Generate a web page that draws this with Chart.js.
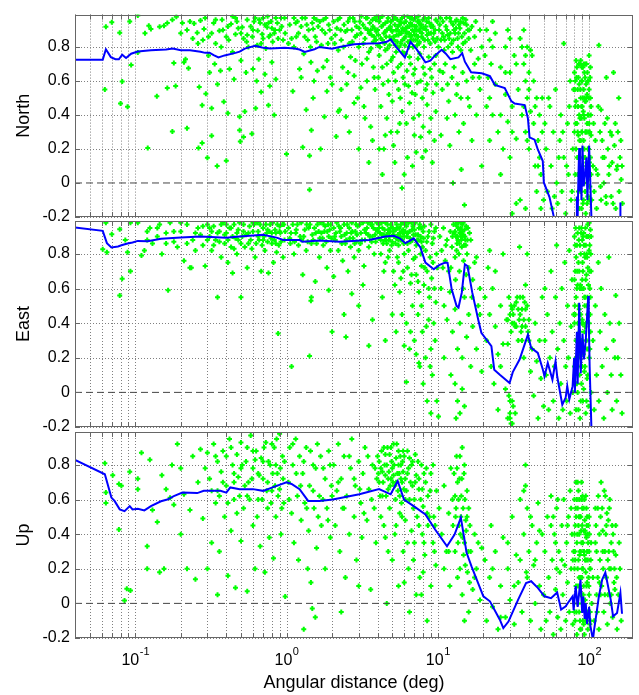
<!DOCTYPE html>
<html lang="en">
<head>
<meta charset="UTF-8">
<title>Correlation vs angular distance</title>
<script src="https://cdn.jsdelivr.net/npm/chart.js@4"></script>
<style>
  html, body { margin: 0; padding: 0; background: #fff; }
  #wrap { position: relative; width: 639px; height: 695px; }
  canvas { position: absolute; left: 0; }
</style>
</head>
<body>
<div id="wrap">
  <canvas id="north" width="639" height="235" style="top:0px"></canvas>
  <canvas id="east" width="639" height="245" style="top:200px"></canvas>
  <canvas id="up" width="639" height="284" style="top:411px"></canvas>
</div>
<script>
// axis limits and ticks
const xMin = 0.04, xMax = 195;
const yMin = -0.2, yMax = 0.99;
const xGridValues = [0.04,0.05,0.06,0.07,0.08,0.09,0.1,0.2,0.3,0.4,0.5,0.6,0.7,0.8,0.9,1,2,3,4,5,6,7,8,9,10,20,30,40,50,60,70,80,90,100];
const xMajorValues = [0.1, 1, 10, 100];
const xMajorExps = ['-1', '0', '1', '2'];
const yTickValues = [-0.2, 0, 0.2, 0.4, 0.6, 0.8];
const yTickLabels = ['-0.2', '0', '0.2', '0.4', '0.6', '0.8'];
const panelNames = ['North', 'East', 'Up'];
const xTitle = 'Angular distance (deg)';

// running mean lines [deg, corr]
const northLine = [[0.04,.725],[0.061,.725],[0.064,.786],[0.069,.74],[0.074,.728],[0.078,.727],[0.082,.754],[0.087,.735],[0.094,.76],[0.104,.773],[0.127,.78],[0.16,.785],[0.177,.79],[0.2,.78],[0.23,.78],[0.27,.772],[0.29,.765],[0.31,.766],[0.33,.752],[0.355,.738],[0.39,.75],[0.46,.765],[0.49,.772],[0.53,.79],[0.62,.806],[0.69,.796],[0.78,.79],[0.97,.795],[1.13,.79],[1.22,.785],[1.32,.771],[1.53,.786],[1.65,.8],[2.0,.79],[2.24,.8],[2.8,.815],[3.5,.82],[4.1,.822],[4.6,.83],[4.88,.844],[5.3,.8],[6.06,.738],[6.3,.78],[6.6,.829],[7.2,.79],[8.28,.709],[8.93,.719],[9.6,.75],[10.6,.783],[11.3,.76],[12.1,.728],[13.7,.738],[14.5,.763],[15.1,.713],[16.6,.651],[19.5,.645],[22.1,.628],[23.8,.577],[27.7,.558],[30.6,.481],[32.2,.467],[37.5,.458],[39.4,.38],[40.4,.268],[43.6,.255],[45.8,.197],[49.4,.129],[50.2,.003],[54.7,-.083],[58.3,-.195],[62,-.3],[78,-.32],[82,-.25],[83,-.08],[84,-.2],[85,.05],[86,.206],[87,-.05],[88,.1],[89,-.1],[90.4,.22],[92,-.02],[94,.05],[96,.15],[97.5,-.1],[99,.1],[100,.22],[101.5,.05],[103.5,-.2],[106,-.35],[158,-.35],[160,-.2],[161,-.115]];
const eastLine = [[0.04,.953],[0.061,.933],[0.065,.862],[0.0696,.837],[0.077,.843],[0.081,.85],[0.089,.86],[0.096,.866],[0.104,.875],[0.121,.873],[0.148,.888],[0.2,.894],[0.27,.9],[0.4,.893],[0.49,.9],[0.7,.91],[0.86,.894],[0.95,.88],[1.22,.88],[1.28,.87],[1.65,.878],[2.24,.87],[3.52,.88],[4.5,.9],[5.12,.905],[5.6,.89],[6.1,.862],[6.5,.875],[6.93,.89],[7.67,.837],[8.28,.75],[9.4,.711],[10.2,.735],[11.2,.75],[11.6,.748],[12.35,.595],[13.3,.5],[13.7,.49],[14.4,.576],[15.1,.74],[15.7,.73],[16.9,.576],[18.5,.42],[19.4,.344],[22.6,.267],[23.6,.131],[25.7,.102],[29.8,.054],[31.3,.117],[34.7,.19],[39.4,.334],[41.4,.257],[45.8,.228],[49.5,.131],[50.7,.093],[53.3,.17],[57.2,.074],[60,.18],[61.5,.093],[66.5,-.071],[70,-.03],[71.7,.036],[74,-.04],[77.8,.036],[79.6,.2],[80.5,0],[83,.35],[84,.05],[86,.518],[88,.11],[90.4,.34],[92.5,.19],[95,.3],[98.6,.557],[99.5,.42],[100.8,.15],[103.5,-.2],[106,-.45]];
const upLine = [[0.04,.829],[0.063,.746],[0.0696,.611],[0.073,.592],[0.079,.543],[0.085,.533],[0.092,.562],[0.096,.543],[0.104,.547],[0.115,.537],[0.127,.562],[0.148,.59],[0.163,.6],[0.18,.62],[0.205,.64],[0.257,.637],[0.284,.65],[0.366,.65],[0.4,.64],[0.425,.67],[0.49,.66],[0.6,.66],[0.7,.65],[0.86,.679],[1.0,.7],[1.08,.69],[1.22,.66],[1.39,.592],[1.65,.592],[2.02,.6],[3.03,.63],[4.09,.66],[4.88,.63],[5.43,.707],[5.98,.6],[6.93,.562],[8.28,.514],[9.6,.427],[11.5,.33],[12.9,.398],[14.2,.495],[15.5,.292],[16.7,.214],[20,.041],[22.1,.012],[25.7,-.094],[27.1,-.143],[29.3,-.105],[33.9,.02],[38.3,.118],[41.4,.128],[45.8,.09],[50.7,.041],[56,.03],[61.5,.063],[65.3,-.036],[70,-.017],[73.7,.012],[77.8,.041],[79,-.04],[81.5,.1],[84,-.02],[87.7,.137],[90,-.055],[91.5,.04],[93.5,-.09],[95,0],[97,-.12],[100,-.02],[102,-.13],[106,-.21],[108,-.15],[112,-.055],[116,.04],[122,.137],[128,.178],[139,.02],[144,-.075],[153,-.055],[161,.06],[165,-.06]];

// station pairs [deg, corr]
const northPts = [[0.064,.918],[0.07,.945],[0.063,.55],[0.079,.883],[0.082,.597],[0.08,.467],[0.089,.448],[0.092,.95],[0.094,.693],[0.104,.985],[0.104,.767],
[0.116,.88],[0.121,.206],[0.123,.925],[0.127,.905],[0.139,.51],[0.145,.918],[0.155,.925],[0.163,.558],[0.163,.94],[0.176,.303],[0.176,.96],[0.18,.705],[0.185,.57],[0.187,.978],[0.205,.94],[0.21,.71],[0.215,.727],[0.22,.322],[0.225,.675],[0.24,.85],[0.245,.937],[0.257,.883],[0.262,.206],[0.265,.565],[0.27,.956],[0.277,.235],[0.277,.457],[0.285,.905],[0.293,.524],
[0.3,.148],[0.305,.75],[0.305,.86],[0.31,.65],[0.32,.44],[0.32,.277],[0.33,.94],[0.335,.7],[0.348,.1],[0.35,.58],[0.36,.895],[0.366,.66],[0.375,.96],[0.385,.478],[0.4,.13],[0.41,.41],[0.415,.84],[0.42,.67],[0.43,.935],[0.44,.77],[0.45,.61],[0.46,.875],[0.47,.95],[0.49,.31],[0.49,.39],[0.495,.244],[0.5,.72],[0.51,.915],[0.52,.27],[0.53,.42],[0.54,.65],[0.545,.83],[0.55,.96],[0.59,.29],[0.595,.86],[0.6,.67],[0.61,.95],[0.625,.44],[0.635,.6],[0.645,.895],[0.655,.727],[0.67,.94],[0.68,.535],[0.69,.875],[0.7,.97],[0.72,.64],[0.73,.79],[0.745,.915],[0.76,.457],[0.765,.86],[0.775,.57],[0.79,.95],[0.8,.71],[0.81,.83],[0.83,.4],[0.83,.88],[0.85,.61],[1.0,.17],[0.87,.94],[0.34,.82],[0.38,.9],[0.44,.98],[0.52,.85],[0.58,.92],[0.64,.81],[0.72,.93],[0.78,.87],[0.9,.9],[0.95,.84],[0.97,.97],
[0.2,.88],[0.23,.95],[0.26,.82],[0.29,.97],[0.32,.88],[0.37,.8],[0.41,.92],[0.46,.97],[0.5,.88],[0.56,.8],[0.6,.9],[0.66,.96],[0.7,.85],[0.75,.98],[0.8,.91],[0.85,.97],[0.88,.85],[0.93,.92],
[0.22,.9],[0.28,.84],[0.34,.96],[0.4,.86],[0.48,.91],[0.55,.87],[0.62,.97],[0.68,.82],[0.76,.94],[0.84,.9],[0.92,.97],[0.98,.88],
[1.1,.54],[1.12,.8],[1.15,.94],[1.22,.67],[1.28,.21],[1.32,.86],[1.35,.43],[1.42,.16],[1.46,.31],[1.5,.905],[1.42,-.04],[1.52,.6],[1.58,.96],[1.05,.93],[1.08,.85],[1.12,.97],[1.18,.95],[1.2,.88],[1.25,.92],[1.3,.76],[1.33,.97],[1.38,.84],[1.4,.9],[1.45,.71],[1.48,.94],[1.55,.86],[1.6,.66],[1.62,.92],[1.7,.81],[1.75,.96],[1.8,.88],[1.85,.72],[1.9,.93],[1.95,.62],[1.98,.85],[1.78,.39],[1.68,.2],[1.85,.54],
[1.03,.82],[1.16,.86],[1.27,.97],[1.36,.93],[1.44,.8],[1.52,.97],[1.58,.83],[1.66,.95],[1.72,.9],[1.82,.97],[1.88,.82],[1.93,.9],[1.25,.62],[1.5,.5],[1.75,.68],
[2.05,.95],[2.1,.87],[2.15,.91],[2.2,.78],[2.25,.97],[2.3,.84],[2.35,.68],[2.4,.93],[2.45,.89],[2.5,.58],[2.55,.95],[2.6,.82],[2.65,.74],[2.7,.9],[2.75,.97],[2.8,.63],[2.85,.86],[2.9,.92],[2.95,.5],[3.0,.8],[3.05,.95],[3.1,.88],[3.15,.7],[3.2,.93],[3.25,.45],[3.3,.85],[3.35,.97],[3.4,.6],[3.45,.9],[3.5,.77],[3.55,.94],[3.6,.33],[3.65,.87],[3.7,.96],[3.75,.68],[3.8,.91],[3.85,.55],[3.9,.84],[3.95,.98],[2.2,.42],[2.6,.3],[3.0,.2],[3.3,.38],[3.7,.25],[2.8,.47],[3.5,.12],[2.13,.274],[2.24,.43],[2.47,.39],
[2.08,.82],[2.18,.96],[2.28,.9],[2.38,.8],[2.52,.9],[2.62,.97],[2.72,.83],[2.82,.95],[2.92,.87],[3.02,.91],[3.12,.98],[3.22,.82],[3.32,.91],[3.42,.97],[3.52,.88],[3.62,.79],[3.72,.92],[3.82,.97],[3.92,.89],[2.0,.58],[2.3,.55],[2.55,.65],[2.85,.72],[3.1,.56],[3.4,.73],[3.8,.62],
[4.0,.9],[4.1,.95],[4.2,.85],[4.25,.92],[4.3,.98],[4.4,.88],[4.45,.82],[4.5,.94],[4.6,.9],[4.7,.97],[4.8,.86],[4.85,.92],[4.9,.95],[5.0,.89],[5.1,.98],[5.15,.84],[5.2,.93],[5.3,.9],[5.4,.96],[5.5,.87],[5.6,.93],[5.7,.82],[5.8,.97],[5.9,.9],[6.0,.94],[6.1,.86],[6.2,.91],[6.3,.98],[6.45,.88],[6.6,.94],[6.7,.84],[6.8,.9],[6.9,.96],[7.0,.87],[7.2,.92],[7.3,.81],[7.5,.95],[7.6,.89],[7.8,.93],[8.0,.85],[8.2,.97],[8.4,.9],[8.6,.84],[8.8,.94],[9.0,.88],[9.3,.92],[9.6,.83],[9.9,.95],
[3.6,.9],[3.75,.83],[3.9,.96],[4.05,.87],[4.15,.8],[4.35,.93],[4.55,.86],[4.65,.79],[4.75,.91],[4.95,.84],[5.05,.96],[5.25,.81],[5.35,.87],[5.45,.92],[5.55,.8],[5.65,.95],[5.75,.88],[5.85,.84],[5.95,.98],[6.05,.81],[6.15,.95],[6.25,.88],[6.35,.83],[6.5,.92],[6.55,.97],[6.65,.87],[6.75,.93],[6.85,.8],[6.95,.89],[7.1,.97],[7.15,.84],[7.25,.9],[7.4,.86],[7.45,.98],[7.55,.83],[7.7,.91],[7.85,.88],[7.95,.96],[8.1,.8],[8.3,.92],[8.5,.87],[8.7,.97],[8.9,.82],[9.1,.93],[9.4,.88],[9.7,.96],
[3.8,.86],[4.0,.81],[4.15,.97],[4.3,.84],[4.5,.89],[4.65,.95],[4.8,.81],[4.95,.9],[5.1,.86],[5.25,.97],[5.4,.83],[5.55,.89],[5.7,.94],[5.85,.91],[6.0,.85],[6.15,.89],[6.3,.92],[6.45,.8],[6.6,.86],[6.75,.97],[6.9,.84],[7.05,.92],[7.2,.87],[7.35,.95],[7.5,.82],[7.65,.93],[7.8,.86],[8.0,.91],[8.2,.84],[8.45,.95],[8.7,.88],[9.0,.92],[9.3,.85],[9.6,.9],[9.9,.85],
[4.1,.75],[4.3,.68],[4.5,.78],[4.7,.6],[4.9,.72],[5.1,.65],[5.3,.77],[5.5,.55],[5.7,.7],[5.9,.62],[6.1,.76],[6.4,.57],[6.6,.7],[6.9,.64],[7.1,.52],[7.4,.73],[7.7,.6],[8.0,.68],[8.3,.55],[8.7,.74],[9.1,.62],[9.5,.7],[9.8,.58],
[4.05,.62],[4.35,.58],[4.6,.7],[4.75,.52],[5.05,.74],[5.25,.6],[5.45,.68],[5.65,.5],[5.85,.77],[6.05,.58],[6.25,.66],[6.5,.74],[6.75,.53],[7.05,.67],[7.3,.59],[7.6,.76],[7.9,.5],[8.2,.64],[8.5,.58],[8.9,.67],[9.3,.53],[9.7,.75],
[4.2,.45],[4.6,.38],[5.0,.48],[5.4,.3],[5.8,.42],[6.2,.35],[6.5,.47],[7.0,.28],[7.5,.4],[8.0,.33],[8.5,.46],[9.0,.38],[9.5,.25],[4.4,.2],[5.2,.12],[6.0,.05],[7.2,.18],[8.3,.19],[7.9,.15],[5.8,-.03],[6.8,.1],[9.2,.12],[4.1,.2],[4.3,.05],[4.9,.3],[4.5,.28],[5.1,.22],[5.6,.35],[6.3,.15],[6.9,.38],[7.7,.27],[8.8,.3],[9.7,.42],
[10.2,.9],[10.5,.84],[10.8,.95],[11.0,.78],[11.3,.92],[11.6,.87],[12.0,.97],[12.3,.82],[12.6,.93],[13.0,.88],[13.3,.96],[13.6,.8],[14.0,.91],[14.4,.86],[14.8,.94],[15.2,.83],[15.8,.9],[16.5,.78],[17.5,.86],[18.5,.73],[19.5,.8],
[10.1,.8],[10.4,.97],[10.9,.86],[11.4,.97],[11.7,.8],[12.1,.88],[12.5,.77],[12.8,.9],[13.1,.95],[13.5,.85],[13.8,.93],[14.2,.78],[14.6,.97],[15.0,.88],[15.5,.93],[16.0,.85],[16.8,.92],[17.8,.95],[19,.9],[10.8,.65],[11.6,.58],[12.8,.68],[13.3,.52],[14.6,.65],[15.8,.5],[17.5,.7],[18.8,.62],
[10.3,.93],[10.7,.88],[11.1,.84],[11.5,.9],[11.9,.85],[12.2,.95],[12.7,.84],[13.2,.91],[13.7,.88],[14.1,.95],[14.7,.82],[15.3,.96],[16.2,.9],
[10.3,.66],[10.7,.55],[11.2,.7],[11.8,.48],[12.4,.62],[13.0,.4],[13.5,.58],[14.2,.5],[14.8,.35],[15.5,.6],[16.2,.45],[17.0,.62],[18.0,.4],[19.0,.55],[10.5,.28],[12.0,.22],[13.8,.3],[16.8,.25],[14.3,.08],[19.5,.1],[15.0,-.13],[12.6,0],[11.5,.38],
[20.5,.75],[21,.9],[21.5,.62],[22,.84],[22,.5],[22.5,.7],[23,.95],[23,.4],[24,.58],[25,.3],[26,.68],[27,.2],[28,.8],[28,.52],[29,.9],[29,.36],[30,.65],[30,.15],[31,.45],[32,.75],[33,.26],[34,.55],[35,.85],[36,.4],[37,.7],[37,.9],[38,.6],[38,.3],[39,.8],[39,.5],[40,.65],[40,.2],[41,.42],[42,.75],[43,.35],[44,.1],[45,.5],[45,-.05],[46,.25],[47,.4],[48,-.15],[48,.05],[49,.3],[50,-.1],[26,.05],[35,-.1],[31,-.18],[33,-.12],[38,-.15],
[21,.45],[22,.25],[23,.8],[24,.88],[26,.4],[28,.65],[30,.85],[31,.3],[33,.7],[36,.8],[37,.45],[38,.75],[39,.25],[40,.55],[41,.78],[43,.6],[44,.45],[46,.1],[47,.15],[49,.5],
[52,.2],[53,-.05],[55,.45],[56,.1],[57,-.15],[58,.3],[60,.55],[61,0],[62,-.12],[64,.25],[65,.4],[66,-.05],[68,.82],[68,.15],[70,-.18],[72,.35],[73,.05],[75,.6],[76,-.1],[78,.2],[51,.35],[54,.5],[59,-.08],[63,.15],[67,.3],[71,.1],[74,.45],[77,-.05],[79,.55],
[80,.65],[81,.45],[82,.2],[82,.72],[83,.35],[83,-.1],[84,.55],[84,.05],[85,.62],[85,.28],[86,.4],[86,-.15],[87,.7],[87,.15],[88,.5],[88,-.05],[89,.3],[89,.6],[90,.1],[90,.45],[91,.68],[91,-.12],[92,.25],[92,.55],[93,.38],[93,0],[94,.62],[94,.15],[95,.48],[95,-.18],[96,.3],[96,.7],[97,.08],[97,.52],[98,.4],[98,-.08],[99,.6],[99,.2],[100,.35],[100,.75],[101,-.02],[102,.5],[102,.15],[103,.28],[104,-.1],
[80,.3],[81,.05],[81,.6],[82,.48],[83,.68],[84,.3],[85,-.05],[86,.58],[87,.38],[88,.25],[88,.72],[89,.45],[89,-.15],[90,.6],[90,.3],[91,.15],[91,.5],[92,-.1],[92,.4],[93,.65],[93,.2],[94,.48],[94,-.05],[95,.3],[95,.7],[96,.05],[96,.5],[97,.35],[97,-.12],[98,.6],[98,.2],[99,.02],[99,.4],[100,.55],[100,-.1],[101,.3],[102,.68],[103,.05],[103,.45],
[80.5,.55],[81.5,.35],[82.5,.62],[83.5,.15],[84.5,.45],[85.5,.7],[86.5,.25],[87.5,.55],[88.5,.38],[89.5,.68],[90.5,.2],[91.5,.42],[92.5,.7],[93.5,.5],[94.5,.3],[95.5,.58],[96.5,.12],[97.5,.65],[98.5,.3],[99.5,.5],[100.5,.12],[101.5,.62],[102.5,.4],
[106,.1],[108,-.05],[110,.25],[112,-.15],[114,.05],[116,.81],[118,.3],[120,.43],[120,-.1],[123,.15],[125,0],[127,.35],[130,.62],[130,-.12],[133,.2],[135,.05],[138,.3],[140,-.08],[142,.12],[145,.65],[147,.22],[150,-.15],[152,.08],[155,.3],[158,-.05],[160,.15],[163,.02],[166,-.12],
[107,.35],[111,.08],[115,.45],[119,-.02],[122,.25],[126,.15],[129,-.08],[132,.38],[136,.1],[141,.28],[144,-.12],[149,.35],[154,.1],[157,.5],[162,.25],[165,.1]];

const eastPts = [[0.064,.98],[0.07,.914],[0.061,.827],[0.065,.81],[0.079,.943],[0.082,.657],[0.079,.56],[0.086,.88],[0.089,.81],[0.093,.7],[0.093,.98],[0.104,.98],
[0.11,.79],[0.115,.82],[0.12,.93],[0.125,.95],[0.13,.86],[0.14,.9],[0.145,.97],[0.15,.8],[0.16,.92],[0.165,.59],[0.17,.98],[0.18,.87],[0.19,.84],[0.2,.93],[0.21,.76],[0.22,.97],[0.23,.72],[0.235,.72],[0.24,.88],[0.25,.82],[0.26,.95],[0.27,.91],[0.28,.85],[0.29,.73],[0.3,.97],
[0.12,.88],[0.14,.95],[0.16,.86],[0.18,.93],[0.2,.98],[0.22,.86],[0.25,.92],[0.28,.96],[0.3,.88],
[0.31,.9],[0.32,.82],[0.33,.96],[0.34,.88],[0.35,.55],[0.36,.93],[0.37,.78],[0.38,.98],[0.39,.86],[0.4,.92],[0.41,.75],[0.42,.95],[0.43,.84],[0.44,.69],[0.45,.97],[0.46,.89],[0.47,.8],[0.48,.94],[0.5,.55],[0.5,.86],[0.52,.97],[0.54,.91],[0.55,.72],[0.57,.96],[0.59,.83],[0.6,.93],[0.62,.78],[0.64,.98],[0.66,.88],[0.68,.7],[0.7,.95],[0.72,.82],[0.74,.92],[0.76,.69],[0.78,.97],[0.8,.86],[0.82,.75],[0.84,.94],[0.86,.81],[0.88,.34],[0.9,.96],[0.92,.87],[0.95,.78],[0.98,.93],
[0.31,.95],[0.33,.85],[0.35,.92],[0.37,.97],[0.39,.91],[0.41,.88],[0.43,.95],[0.45,.83],[0.47,.92],[0.49,.98],[0.51,.9],[0.53,.84],[0.56,.92],[0.58,.88],[0.61,.97],[0.63,.86],[0.65,.93],[0.67,.97],[0.69,.85],[0.71,.9],[0.73,.97],[0.75,.87],[0.77,.93],[0.79,.89],[0.81,.98],[0.83,.88],[0.85,.92],[0.87,.97],[0.89,.85],[0.91,.92],[0.94,.97],[0.97,.88],
[0.32,.93],[0.36,.87],[0.4,.97],[0.44,.9],[0.48,.88],[0.52,.93],[0.56,.86],[0.6,.98],[0.65,.9],[0.7,.88],[0.75,.94],[0.8,.92],[0.85,.86],[0.9,.93],[0.96,.97],
[1.05,.89],[1.08,.15],[1.1,.97],[1.12,.8],[1.15,.92],[1.2,.85],[1.25,.98],[1.28,.68],[1.3,.9],[1.35,.82],[1.4,.95],[1.42,.21],[1.45,.53],[1.46,.55],[1.5,.88],[1.55,.64],[1.6,.97],[1.65,.78],[1.7,.92],[1.75,.85],[1.8,.96],[1.85,.72],[1.9,.9],[1.95,.82],
[1.03,.95],[1.07,.92],[1.13,.87],[1.18,.97],[1.23,.9],[1.32,.94],[1.38,.87],[1.43,.97],[1.48,.91],[1.53,.95],[1.58,.86],[1.63,.93],[1.68,.98],[1.73,.89],[1.78,.93],[1.83,.87],[1.88,.97],[1.93,.94],[1.98,.89],
[1.06,.86],[1.16,.94],[1.26,.88],[1.36,.97],[1.46,.86],[1.56,.92],[1.66,.89],[1.76,.97],[1.86,.93],[1.96,.97],
[2.05,.95],[2.1,.88],[2.15,.98],[2.2,.82],[2.25,.93],[2.3,.9],[2.35,.76],[2.4,.97],[2.45,.86],[2.5,.92],[2.55,.7],[2.6,.95],[2.65,.84],[2.7,.98],[2.75,.89],[2.8,.78],[2.85,.93],[2.9,.87],[2.95,.96],[3.0,.82],[3.1,.92],[3.2,.98],[3.25,.73],[3.3,.88],[3.4,.95],[3.5,.84],[3.6,.97],[3.7,.9],[3.8,.8],[3.9,.94],[2.0,.35],[2.47,.32],[3.5,.27],[2.4,.45],[2.7,.57],[2.05,.67],[3.2,.62],[3.0,.5],[3.7,.42],[1.9,.59],
[2.12,.92],[2.22,.96],[2.32,.86],[2.42,.91],[2.52,.97],[2.62,.89],[2.72,.93],[2.82,.86],[2.92,.91],[3.05,.97],[3.15,.88],[3.35,.92],[3.45,.98],[3.55,.9],[3.65,.87],[3.75,.95],[3.85,.91],[3.95,.98],
[2.08,.9],[2.28,.95],[2.48,.88],[2.68,.92],[2.88,.97],[3.08,.86],[3.28,.94],[3.48,.91],[3.68,.97],[3.88,.87],
[4.0,.93],[4.1,.97],[4.2,.88],[4.3,.95],[4.4,.91],[4.5,.98],[4.6,.86],[4.7,.94],[4.8,.9],[4.9,.97],[5.0,.87],[5.1,.93],[5.2,.99],[5.3,.89],[5.4,.95],[5.5,.85],[5.6,.92],[5.7,.97],[5.8,.88],[5.9,.94],[6.0,.9],[6.2,.96],[6.3,.86],[6.5,.93],[6.7,.98],[6.8,.88],[7.0,.94],[7.2,.85],[7.4,.91],[7.6,.97],[7.8,.87],[8.0,.93],[8.3,.82],[8.6,.9],[8.9,.78],[9.2,.86],[9.5,.93],[9.8,.8],
[4.05,.89],[4.15,.92],[4.25,.98],[4.35,.86],[4.45,.94],[4.55,.9],[4.65,.97],[4.75,.88],[4.85,.93],[4.95,.85],[5.05,.95],[5.15,.9],[5.25,.86],[5.35,.97],[5.45,.91],[5.55,.95],[5.65,.88],[5.75,.93],[5.85,.98],[5.95,.86],[6.1,.93],[6.25,.9],[6.4,.98],[6.6,.87],[6.75,.94],[6.9,.91],[7.1,.98],[7.3,.88],[7.5,.95],[7.7,.9],[7.9,.84],[8.15,.96],[8.45,.87],[8.75,.93],[9.0,.97],[9.35,.89],[9.7,.95],
[4.08,.95],[4.28,.91],[4.48,.88],[4.68,.92],[4.88,.95],[5.08,.91],[5.28,.94],[5.48,.88],[5.68,.9],[5.88,.92],[6.08,.97],[6.35,.92],[6.55,.89],[6.85,.96],[7.15,.91],[7.45,.88],[7.75,.95],[8.05,.89],
[4.2,.8],[4.5,.75],[4.8,.82],[5.1,.7],[5.4,.78],[5.7,.66],[6.0,.8],[6.3,.72],[6.6,.63],[6.9,.77],[7.2,.68],[7.5,.58],[7.8,.73],[8.1,.62],[8.5,.7],[8.8,.55],[9.1,.66],[9.5,.6],[9.9,.72],
[4.4,.7],[4.7,.78],[5.2,.62],[5.5,.75],[5.9,.7],[6.4,.82],[6.7,.68],[7.1,.78],[7.4,.64],[7.7,.8],[8.2,.72],[8.7,.6],[9.3,.75],[9.7,.52],
[4.3,.55],[5.0,.45],[5.6,.58],[6.2,.4],[6.8,.5],[7.0,.3],[7.4,.45],[7.9,.35],[8.3,.2],[8.7,.42],[9.2,.1],[9.6,.3],[8.0,.05],[8.5,-.05],[7.6,.15],[9.0,-.12],[6.5,.25],[5.3,.35],[4.5,.3],[6.2,.06],[7.5,.17],[8.9,.15],[9.85,-.05],[10.1,-.14],[6.0,.27],[5.8,.45],[6.6,.35],[7.2,.22],[7.8,.5],[8.4,.38],[9.4,.4],[9.0,.25],
[10.3,.9],[10.6,.82],[10.9,.95],[11.2,.76],[11.5,.88],[11.8,.7],[12.1,.93],[12.4,.84],[12.7,.97],[13.0,.78],[13.2,.9],[13.4,.86],[13.6,.95],[13.8,.8],[14.0,.92],[14.2,.99],[14.4,.84],[14.6,.9],[14.8,.76],[15.0,.94],[15.3,.85],[15.6,.8],[16.0,.72],[16.5,.88],[17.0,.65],[18.0,.78],[19.0,.6],
[12.8,.92],[13.1,.97],[13.3,.82],[13.5,.9],[13.7,.98],[13.9,.86],[14.1,.95],[14.3,.88],[14.5,.93],[14.7,.98],[14.9,.85],[15.1,.9],[15.4,.96],[15.7,.88],[16.2,.92],[12.2,.72],[13.1,.65],[13.9,.7],[14.7,.6],[15.4,.68],[16.8,.55],[17.5,.75],[18.5,.5],[11.3,.85],[10.8,.72],
[13.0,.93],[13.3,.97],[13.6,.88],[13.9,.94],[14.2,.9],[14.5,.97],[14.8,.91],[15.2,.88],[12.5,.9],[15.8,.95],
[10.5,.6],[11,.5],[11.5,.42],[12,.58],[12.5,.35],[13,.48],[13.5,.25],[14,.4],[14.5,.2],[15,.55],[15.5,.32],[16,.45],[16.5,.15],[17,.38],[18,.25],[19,.45],[19.5,.12],[13,.05],[13.5,-.05],[14,-.12],[14.5,.02],[13.2,-.15],[15,-.08],[11,.2],[12.2,.1],
[20.5,.55],[21,.3],[21.5,.72],[22,.45],[22.5,.15],[23,.6],[23.5,.05],[24,.38],[25,.22],[25,-.1],[26,.5],[27,.8],[27,.28],[28,.02],[28.5,.42],[29,-.15],[29.5,.55],[30,-.05],[30.5,.35],[31,-.18],[31,.48],[32,.4],[32.5,-.12],[33,.52],[34,.3],[34.7,.84],[35,.45],[36,.38],[36.5,.55],[37,.2],[38,.48],[38,.62],[39,.8],[39.5,.35],[40,.42],[41,.12],[42,.25],[43,-.02],[44,.4],[45,.18],[46,-.15],[47,.3],[48,.08],[49,.55],[50,-.08],
[30,.45],[31,.4],[32,.5],[33,.38],[34,.48],[35,.55],[35.5,.35],[36,.48],[37,.42],[37.5,.52],[38,.38],[39,.5],[40,.3],[29,.28],[30,-.12],[30.5,-.18],[31.5,-.08],[29.5,-.02],[24,.7],[26,.15],[22,.82],
[30.5,.5],[31.5,.45],[32.5,.38],[33.5,.55],[34.5,.42],[36,.3],[29,.42],[31,-.05],[30,-.15],
[51,.6],[51,.3],[52,.1],[53,.45],[54,-.1],[55,.2],[56,.7],[57,.35],[58,-.05],[59,.15],[60,.55],[61,.85],[62,.25],[63,-.15],[64,.4],[65,.05],[66,.6],[67,-.1],[68,.3],[69,.75],[70,.15],[71,-.05],[72,.5],[73,.2],[74,.82],[75,-.12],[76,.38],[77,.65],[78,0],[79,.45],
[80,.9],[80,.4],[81,.7],[81,.1],[82,.55],[82,-.1],[83,.85],[83,.3],[84,.62],[84,0],[85,.75],[85,.2],[86,.48],[86,.95],[87,.35],[87,-.15],[88,.8],[88,.15],[89,.6],[89,.05],[90,.88],[90,.42],[91,.7],[91,-.05],[92,.25],[92,.92],[93,.55],[93,.12],[94,.78],[94,.38],[95,.65],[95,-.12],[96,.9],[96,.3],[97,.5],[97,.08],[98,.72],[98,.97],[99,.45],[99,-.08],[100,.82],[100,.2],[101,.6],[102,.94],[102,.35],[103,.7],[103,0],
[80,.65],[80,.15],[81,.85],[81,.45],[82,.3],[82,.78],[83,.6],[83,.05],[84,.92],[84,.4],[85,.5],[85,-.1],[86,.7],[86,.22],[87,.6],[87,.85],[88,.45],[88,-.05],[89,.95],[89,.3],[90,.65],[90,.15],[91,.4],[91,.9],[92,.6],[92,.02],[93,.8],[93,.35],[94,.55],[94,.15],[95,.85],[95,.4],[96,.68],[96,-.05],[97,.78],[97,.25],[98,.45],[98,.1],[99,.9],[99,.62],[100,.4],[100,.98],[101,.25],[101,.85],[102,.55],[103,.9],
[80.5,.5],[81.5,.95],[82.5,.2],[83.5,.7],[84.5,.3],[85.5,.88],[86.5,.1],[87.5,.62],[88.5,.92],[89.5,.4],[90.5,.75],[91.5,.22],[92.5,.85],[93.5,.5],[94.5,.95],[95.5,.3],[96.5,.8],[97.5,.55],[98.5,.9],[99.5,.25],[100.5,.7],[101.5,.45],[102.5,.8],
[106,.3],[108,-.1],[110,.5],[112,.1],[115,.75],[116,-.05],[118,.35],[120,.6],[122,.15],[125,-.15],[127,.45],[130,.25],[132,0],[135,.78],[137,.4],[140,.1],[142,-.1],[145,.3],[148,.2],[150,.56],[152,-.05],[155,.2],[158,.4],[162,.1],[165,-.12]];

const upPts = [[0.063,.81],[0.064,.64],[0.064,.58],[0.071,.74],[0.078,.69],[0.081,.68],[0.078,.427],[0.088,.085],[0.093,.075],[0.085,.017],[0.092,.76],[0.104,.72],[0.104,.66],
[0.11,.87],[0.12,.2],[0.12,.33],[0.125,.83],[0.13,.54],[0.14,.47],[0.145,.18],[0.15,.74],[0.155,.2],[0.16,.66],[0.17,.61],[0.175,.8],[0.18,.57],[0.19,.92],[0.2,.4],[0.2,.78],[0.21,.63],[0.22,.2],[0.23,.54],[0.24,.85],[0.25,.14],[0.26,.7],[0.27,.89],[0.28,.49],[0.29,.78],[0.3,.2],[0.3,.87],
[0.31,.72],[0.32,.35],[0.33,.92],[0.34,.58],[0.35,.05],[0.35,.82],[0.36,.3],[0.37,.76],[0.38,.88],[0.39,.5],[0.4,.68],[0.41,.16],[0.42,.95],[0.43,.42],[0.44,.8],[0.45,.6],[0.46,.09],[0.47,.86],[0.48,.73],[0.5,.36],[0.5,.93],[0.52,.55],[0.54,.82],[0.55,.07],[0.56,.7],[0.58,.97],[0.6,.45],[0.6,.78],[0.62,.2],[0.63,.88],[0.65,.6],[0.67,.33],[0.68,.84],[0.7,.72],[0.72,.18],[0.73,.93],[0.75,.55],[0.77,.38],[0.78,.8],[0.8,.65],[0.82,.26],[0.83,.9],[0.85,.5],[0.87,.75],[0.9,.98],[0.92,.4],[0.94,.85],[0.96,.58],[0.98,.04],
[0.32,.65],[0.34,.85],[0.36,.62],[0.38,.7],[0.41,.58],[0.43,.9],[0.45,.75],[0.47,.52],[0.49,.62],[0.51,.8],[0.53,.68],[0.55,.9],[0.57,.6],[0.59,.72],[0.62,.83],[0.64,.5],[0.66,.74],[0.69,.6],[0.71,.9],[0.74,.65],[0.76,.82],[0.79,.58],[0.81,.75],[0.84,.68],[0.86,.95],[0.88,.62],[0.91,.78],[0.93,.55],[0.97,.82],
[0.35,.65],[0.4,.85],[0.45,.7],[0.5,.78],[0.55,.62],[0.6,.88],[0.65,.75],[0.7,.82],[0.75,.7],[0.8,.92],[0.85,.8],[0.9,.66],[0.95,.72],
[1.03,.7],[1.05,.9],[1.08,.52],[1.1,.8],[1.12,.35],[1.15,.95],[1.18,.62],[1.2,.25],[1.22,.85],[1.25,.48],[1.28,.75],[1.3,-.15],[1.32,.58],[1.35,.9],[1.38,.2],[1.4,.42],[1.42,.68],[1.45,.12],[1.48,-.03],[1.5,.8],[1.52,.55],[1.55,-.08],[1.58,.32],[1.6,.92],[1.65,.62],[1.7,.45],[1.75,.78],[1.8,.2],[1.85,.55],[1.9,.88],[1.95,.38],[1.98,.68],
[1.04,.6],[1.1,.92],[1.16,.75],[1.24,.68],[1.3,.82],[1.36,.55],[1.44,.88],[1.5,.65],[1.56,.78],[1.62,.5],[1.68,.85],[1.74,.6],[1.8,.72],[1.88,.48],[1.94,.8],[2.0,.62],[2.2,.7],[2.4,.55],[2.6,.85],[2.8,.72],[3.05,.66],[3.25,.52],[3.45,.85],[3.65,.6],[3.85,.78],
[2.05,.8],[2.1,.45],[2.15,.65],[2.2,.92],[2.25,.3],[2.3,.72],[2.35,.55],[2.4,.85],[2.45,.15],[2.5,.62],[2.6,.4],[2.65,.78],[2.7,.95],[2.8,.5],[2.85,.68],[2.9,.25],[3.0,.82],[3.1,.58],[3.15,.38],[3.2,.75],[3.3,.9],[3.4,.48],[3.5,.66],[3.6,.08],[3.7,.8],[3.8,.55],[3.9,.35],[3.95,.72],[2.3,-.05],[3.0,.1],
[4.0,.85],[4.1,.7],[4.2,.78],[4.3,.62],[4.4,.9],[4.5,.74],[4.6,.8],[4.7,.66],[4.8,.86],[4.9,.72],[5.0,.78],[5.1,.92],[5.2,.68],[5.3,.84],[5.4,.75],[5.5,.88],[5.6,.62],[5.7,.8],[5.8,.7],[5.9,.76],[6.0,.85],[6.2,.65],[6.4,.78],[6.6,.7],[6.8,.82],[7.0,.6],[7.2,.74],[7.5,.66],[7.8,.8],[8.0,.56],[8.3,.7],[8.6,.62],[9.0,.75],[9.4,.5],[9.8,.65],
[4.05,.75],[4.15,.62],[4.25,.88],[4.35,.7],[4.45,.8],[4.55,.62],[4.65,.9],[4.75,.76],[4.85,.68],[4.95,.82],[5.05,.7],[5.15,.8],[5.25,.6],[5.35,.92],[5.45,.65],[5.55,.75],[5.65,.85],[5.75,.58],[5.85,.82],[5.95,.66],[6.1,.72],[6.3,.88],[6.5,.6],[6.7,.8],[6.9,.55],[7.1,.7],[7.4,.82],[7.7,.6],[8.1,.75],[8.5,.52],[8.9,.65],[9.3,.8],[9.6,.45],
[4.1,.82],[4.3,.76],[4.5,.86],[4.7,.72],[4.9,.9],[5.1,.74],[5.3,.7],[5.5,.8],[5.7,.72],[5.9,.88],[6.1,.6],[6.3,.75],[6.5,.84],[6.8,.68],[7.1,.86],[7.5,.72],[7.9,.66],[8.4,.78],
[4.2,.5],[4.5,.38],[4.8,.55],[5.0,.25],[5.3,.45],[5.6,.52],[5.9,.3],[6.1,.48],[6.4,.2],[6.7,.42],[7.0,.35],[7.3,.5],[7.6,.15],[7.9,.4],[8.2,.28],[8.6,.45],[9.0,.1],[9.3,.35],[9.7,.22],[4.6,0],[5.5,.1],[6.5,-.05],[7.2,.05],[8.5,-.1],[8.0,.18],
[4.4,.45],[4.7,.3],[5.2,.4],[5.8,.5],[6.3,.35],[6.9,.25],[7.5,.45],[8.1,.35],[8.8,.5],[9.5,.3],[6.0,.12],[7.8,.05],
[10.2,.55],[10.6,.4],[11,.68],[11.4,.3],[11.8,.52],[12.2,.78],[12.6,.45],[13,.62],[13.3,.85],[13.6,.35],[13.9,.72],[14.2,.5],[14.5,.9],[14.8,.28],[15.1,.6],[15.4,.42],[15.7,.18],[16,.55],[16.5,.3],[17,.08],[17.5,.4],[18,.2],[19,.02],[19.5,.32],[13.5,.15],[14.5,.05],[15,-.1],[12,.1],[11,.2],[16,-.05],
[12.8,.75],[13.2,.55],[13.5,.7],[13.8,.45],[14.0,.85],[14.3,.62],[14.6,.38],[14.9,.75],[15.2,.22],[15.6,.5],[16.2,.12],[13.0,.3],[14.0,.2],[15.0,.35],[12.5,.6],[11.8,.3],[17.5,.15],[18.5,.35],
[13.1,.5],[13.4,.78],[13.7,.6],[14.1,.4],[14.4,.72],[14.7,.55],[15.0,.8],[15.3,.48],[15.6,.65],[15.9,.3],[16.3,.45],
[20.5,.25],[21,-.1],[22,.15],[22.5,.45],[23,-.02],[24,.3],[25,-.15],[26,.1],[27,.38],[28,-.08],[29,.2],[30,.02],[31,.5],[32,-.12],[33,.28],[34,.12],[35,.6],[36,-.05],[37,.4],[38,.8],[38,.68],[38.5,.18],[39,.55],[40,.3],[41,-.1],[42,.45],[43,.22],[44,0],[45,.35],[46,.58],[47,.1],[48,-.15],[49,.4],[50,.05],
[23,.2],[26,-.08],[29,.35],[32,.1],[35,.25],[37,.65],[39,.15],[41,.5],[44,.25],[47,.42],
[51,.3],[52,-.1],[53,.5],[54,.15],[55,-.05],[56,.62],[57,.25],[58,-.18],[59,.4],[60,.08],[61,.55],[62,-.08],[63,.3],[64,.18],[65,-.15],[66,.45],[67,.05],[68,.6],[69,.22],[70,-.1],[71,.35],[72,.12],[73,.5],[74,-.05],[75,.65],[76,.2],[77,.4],[78,-.12],[79,.3],
[56,.45],[58,.5],[60,.35],[61,.2],[62,.6],[66,.25],[72,.45],[76,.55],[78,.25],
[80,.6],[80,.2],[81,.45],[81,-.1],[82,.7],[82,.1],[83,.35],[83,-.18],[84,.55],[84,0],[85,.25],[85,.65],[86,.4],[86,-.05],[87,.15],[87,.5],[88,.3],[88,-.15],[89,.6],[89,.05],[90,.2],[90,.45],[91,-.1],[91,.35],[92,.1],[92,.55],[93,.28],[93,-.18],[94,.42],[94,.02],[95,.62],[95,.18],[96,-.08],[96,.38],[97,.5],[97,.12],[98,.25],[98,-.15],[99,.45],[100,.05],[100,.3],[102,-.1],[102,.2],[104,0],
[80,.4],[80,-.05],[81,.25],[82,.5],[83,.6],[84,.2],[84,.7],[85,.45],[86,.15],[86,.6],[87,.3],[87,-.1],[88,.5],[88,.05],[89,.35],[89,.7],[90,0],[90,.55],[91,.2],[92,.42],[92,-.12],[93,.6],[94,.25],[95,.4],[96,.55],[96,.1],[97,.3],[98,.4],[99,.15],[100,.5],[101,.2],[101,-.12],[103,.35],
[80.5,.3],[81.5,.55],[82.5,-.05],[83.5,.4],[84.5,.1],[85.5,.5],[86.5,.28],[87.5,-.15],[88.5,.42],[89.5,.15],[90.5,.62],[91.5,.05],[92.5,.3],[93.5,.48],[94.5,-.1],[95.5,.25],[96.5,.45],[97.5,-.05],[98.5,.35],[99.5,.1],[100.5,.4],[101.5,-.05],[102.5,.25],
[106,.15],[108,-.1],[110,.35],[112,.05],[114,.55],[116,-.15],[118,.25],[120,.7],[121,.1],[123,.42],[125,-.05],[127,.3],[128,.62],[130,.15],[132,-.12],[134,.48],[136,.2],[138,0],[140,.35],[143,-.08],[146,.12],[150,.28],[153,-.15],[156,.05],[160,.2],[163,-.1],[150,.45],
[110,.55],[112,.3],[114,.15],[115,.62],[117,.4],[119,.05],[122,.55],[124,.2],[126,.65],[129,.4],[131,.52],[133,.05],[135,.3],[137,.6],[139,.2],[142,.45],[145,.3],[148,.08],[152,.15],[158,.35],
[111,.45],[113,-.05],[117,.12],[119,.5],[123,.3],[127,.05],[130,.45],[133,.25],[136,.55],[140,.05],[144,.4],[147,.2]];

const FONT = '"Liberation Sans", Arial, Helvetica, sans-serif';
const toXY = arr => arr.map(p => ({ x: p[0], y: p[1] }));

// MATLAB-like box, dotted grid, inner ticks, axis titles
const matlabAxes = {
  id: 'matlabAxes',
  beforeDatasetsDraw(chart) {
    const { ctx, chartArea: a, scales: { x, y } } = chart;
    ctx.save();
    ctx.strokeStyle = '#808080';
    ctx.lineWidth = 1;
    ctx.setLineDash([1, 2]);
    ctx.beginPath();
    for (const v of xGridValues) {
      const px = Math.round(x.getPixelForValue(v)) + 0.5;
      ctx.moveTo(px, a.top); ctx.lineTo(px, a.bottom);
    }
    for (const v of yTickValues) {
      if (v === 0) continue;
      const py = Math.round(y.getPixelForValue(v)) + 0.5;
      ctx.moveTo(a.left, py); ctx.lineTo(a.right, py);
    }
    ctx.stroke();
    ctx.restore();
  },
  afterDatasetsDraw(chart, args, opts) {
    const { ctx, chartArea: a, scales: { x, y } } = chart;
    ctx.save();
    ctx.strokeStyle = '#666';
    ctx.lineWidth = 1;
    ctx.beginPath();
    for (const v of xGridValues) {
      const px = Math.round(x.getPixelForValue(v)) + 0.5;
      ctx.moveTo(px, a.bottom); ctx.lineTo(px, a.bottom - 5);
      ctx.moveTo(px, a.top); ctx.lineTo(px, a.top + 5);
    }
    for (const v of yTickValues) {
      const py = Math.round(y.getPixelForValue(v)) + 0.5;
      ctx.moveTo(a.left, py); ctx.lineTo(a.left + 5, py);
      ctx.moveTo(a.right, py); ctx.lineTo(a.right - 5, py);
    }
    ctx.stroke();
    ctx.strokeRect(Math.round(a.left) + 0.5, Math.round(a.top) + 0.5,
      Math.round(a.right - a.left) - 1, Math.round(a.bottom - a.top) - 1);

    ctx.fillStyle = '#000';
    ctx.font = '18px ' + FONT;
    ctx.textAlign = 'center';
    ctx.textBaseline = 'middle';
    ctx.save();
    ctx.translate(24, (a.top + a.bottom) / 2);
    ctx.rotate(-Math.PI / 2);
    ctx.fillText(opts.title, 0, 0);
    ctx.restore();

    if (opts.bottom) {
      ctx.textBaseline = 'alphabetic';
      ctx.textAlign = 'left';
      xMajorValues.forEach((v, i) => {
        const px = x.getPixelForValue(v);
        ctx.font = '16px ' + FONT;
        const wBase = ctx.measureText('10').width;
        ctx.font = '11px ' + FONT;
        const wExp = ctx.measureText(xMajorExps[i]).width;
        const left = px - (wBase + wExp) / 2;
        ctx.font = '16px ' + FONT;
        ctx.fillText('10', left, a.bottom + 27);
        ctx.font = '11px ' + FONT;
        ctx.fillText(xMajorExps[i], left + wBase + 0.5, a.bottom + 17);
      });
      ctx.font = '18px ' + FONT;
      ctx.textAlign = 'center';
      ctx.fillText(xTitle, (a.left + a.right) / 2, a.bottom + 50);
    }
    ctx.restore();
  }
};

function makePanel(id, title, pts, line, bottom, padTop) {
  new Chart(document.getElementById(id), {
    type: 'scatter',
    data: {
      datasets: [
        { data: toXY(line), showLine: true, borderColor: '#0000ff', borderWidth: 2, pointRadius: 0, tension: 0 },
        { data: [{ x: xMin, y: 0 }, { x: xMax, y: 0 }], showLine: true, borderColor: '#444', borderWidth: 1, borderDash: [7, 4], pointRadius: 0 },
        { data: toXY(pts), pointStyle: 'cross', pointRadius: 2.5, borderColor: '#00ff00', backgroundColor: '#00ff00', borderWidth: 2 }
      ]
    },
    options: {
      responsive: false,
      animation: false,
      devicePixelRatio: 1,
      events: [],
      layout: { padding: { top: padTop, right: 3, left: 0, bottom: 0 } },
      plugins: {
        legend: { display: false },
        tooltip: { enabled: false },
        matlabAxes: { title: title, bottom: bottom }
      },
      scales: {
        x: {
          type: 'logarithmic', min: xMin, max: xMax, bounds: 'data',
          grid: { display: false, drawTicks: false }, border: { display: false },
          ticks: { display: false },
          afterFit: s => { s.height = bottom ? 57 : 18; }
        },
        y: {
          type: 'linear', min: yMin, max: yMax, bounds: 'data',
          grid: { display: false, drawTicks: false }, border: { display: false },
          afterBuildTicks: s => { s.ticks = yTickValues.map(v => ({ value: v })); },
          ticks: {
            color: '#000', padding: 5,
            font: { family: FONT, size: 16 },
            callback: v => yTickLabels[yTickValues.indexOf(v)]
          },
          afterFit: s => { s.width = 75; }
        }
      }
    },
    plugins: [matlabAxes]
  });
}

makePanel('north', panelNames[0], northPts, northLine, false, 11);
makePanel('east', panelNames[1], eastPts, eastLine, false, 21);
makePanel('up', panelNames[2], upPts, upLine, true, 21);
</script>
</body>
</html>
